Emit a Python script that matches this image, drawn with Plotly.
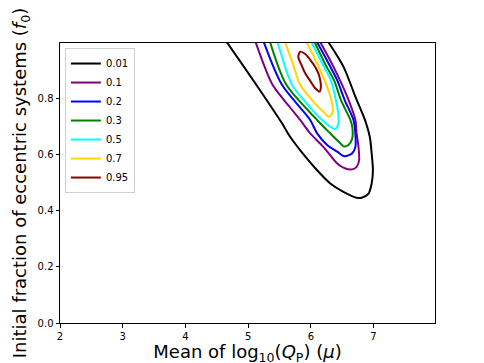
import plotly.graph_objects as go

# contour levels and colours
levels = ['0.01', '0.1', '0.2', '0.3', '0.5', '0.7', '0.95']
colors = ['black', 'purple', 'blue', 'green', 'cyan', 'gold', 'darkred']

# contour paths (mu, f0)
mu_001 = [4.66, 5.10, 5.54, 5.67, 5.87, 6.10, 6.31, 6.52, 6.73, 6.81, 6.92, 6.97, 6.99, 6.97, 6.94, 6.87, 6.71, 6.52, 6.28]
f0_001 = [1.00, 0.858, 0.711, 0.663, 0.604, 0.544, 0.497, 0.467, 0.446, 0.446, 0.461, 0.497, 0.544, 0.604, 0.663, 0.719, 0.806, 0.913, 1.00]

mu_01 = [5.12, 5.39, 5.66, 5.83, 5.99, 6.20, 6.42, 6.55, 6.66, 6.73, 6.77, 6.76, 6.73, 6.71, 6.58, 6.36, 6.15]
f0_01 = [1.00, 0.848, 0.770, 0.723, 0.675, 0.627, 0.568, 0.550, 0.547, 0.556, 0.580, 0.627, 0.675, 0.723, 0.806, 0.913, 1.00]

mu_02 = [5.25, 5.54, 5.99, 6.10, 6.26, 6.42, 6.53, 6.66, 6.71, 6.71, 6.68, 6.54, 6.42, 6.31, 6.10]
f0_02 = [1.00, 0.848, 0.723, 0.675, 0.634, 0.610, 0.594, 0.604, 0.627, 0.675, 0.723, 0.794, 0.865, 0.913, 1.00]

mu_03 = [5.35, 5.61, 6.10, 6.31, 6.47, 6.52, 6.60, 6.66, 6.66, 6.63, 6.48, 6.37, 6.25, 6.06]
f0_03 = [1.00, 0.848, 0.723, 0.675, 0.640, 0.629, 0.634, 0.657, 0.699, 0.723, 0.794, 0.865, 0.913, 1.00]

mu_05 = [5.47, 5.70, 5.91, 6.05, 6.18, 6.29, 6.39, 6.44, 6.44, 6.40, 6.32, 6.18, 6.01]
f0_05 = [1.00, 0.848, 0.788, 0.752, 0.723, 0.702, 0.691, 0.711, 0.740, 0.794, 0.865, 0.925, 1.00]

mu_07 = [5.59, 5.72, 5.83, 6.04, 6.20, 6.29, 6.35, 6.34, 6.26, 6.10, 5.93]
f0_07 = [1.00, 0.919, 0.848, 0.788, 0.752, 0.734, 0.751, 0.782, 0.841, 0.925, 1.00]

mu_095 = [5.83, 5.80, 5.85, 5.91, 5.99, 6.07, 6.14, 6.16, 6.15, 6.12, 6.06, 5.99, 5.91, 5.83]
f0_095 = [0.966, 0.948, 0.919, 0.889, 0.862, 0.836, 0.824, 0.841, 0.865, 0.889, 0.915, 0.937, 0.958, 0.966]

paths = [(mu_001, f0_001), (mu_01, f0_01), (mu_02, f0_02), (mu_03, f0_03),
         (mu_05, f0_05), (mu_07, f0_07), (mu_095, f0_095)]

fig = go.Figure()

for name, color, (mu, f0) in zip(levels, colors, paths):
    fig.add_trace(go.Scatter(
        x=mu,
        y=f0,
        mode='lines',
        name=name,
        line=dict(color=color, width=2, shape='spline', smoothing=0.8)
    ))

axis_style = dict(
    showline=True,
    linecolor='black',
    linewidth=1,
    mirror=True,
    ticks='outside',
    ticklen=3.5,
    tickcolor='black',
    showgrid=False,
    zeroline=False,
    automargin=False,
    tickfont=dict(size=10, color='black')
)

fig.update_layout(
    width=484,
    height=363,
    template='plotly_white',
    plot_bgcolor='white',
    paper_bgcolor='white',
    font=dict(family='DejaVu Sans', color='black'),
    xaxis=dict(
        range=[2, 7.98],
        dtick=1,
        title=dict(text='Mean of log<sub>10</sub>(<i>Q</i><sub>P</sub>) (<i>μ</i>)',
                   font=dict(size=18), standoff=0),
        **axis_style
    ),
    yaxis=dict(
        range=[0, 0.997],
        dtick=0.2,
        tickformat='.1f',
        title=dict(text='Initial fraction of eccentric systems (<i>f</i><sub>0</sub>)',
                   font=dict(size=18), standoff=6),
        **axis_style
    ),
    legend=dict(
        x=0.013,
        y=0.982,
        xanchor='left',
        yanchor='top',
        bgcolor='white',
        bordercolor='#d0d0d0',
        borderwidth=1,
        font=dict(size=10),
        tracegroupgap=0
    ),
    # page body adds 8px, so margins are offset to land the plot where the reference has it
    margin=dict(l=52, r=57, t=35, b=48)
)

fig.write_html("out.html")
